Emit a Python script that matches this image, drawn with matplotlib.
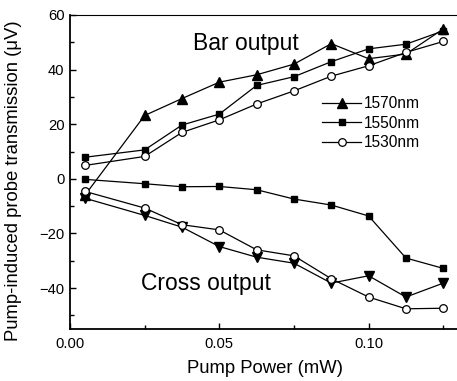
import matplotlib
matplotlib.use("Agg")
import matplotlib.pyplot as plt
from matplotlib.ticker import MultipleLocator
from matplotlib.lines import Line2D

plt.rcParams['font.family'] = ['Liberation Sans', 'DejaVu Sans']

power = [0.005, 0.025, 0.0375, 0.05, 0.0625, 0.075, 0.0875, 0.1, 0.1125, 0.125]

bar_1570 = [-6.0, 23.2, 29.4, 35.4, 38.1, 42.0, 49.5, 44.0, 45.7, 54.9]
bar_1550 = [7.9, 10.6, 19.7, 23.7, 34.2, 37.4, 42.9, 47.6, 49.3, 54.2]
bar_1530 = [4.9, 8.2, 17.0, 21.6, 27.4, 32.2, 37.6, 41.4, 46.3, 50.3]

cross_1570 = [-7.1, -13.4, -17.7, -24.8, -28.7, -30.9, -38.2, -35.5, -43.3, -38.2]
cross_1550 = [-0.2, -1.8, -2.9, -2.8, -4.0, -7.4, -9.6, -13.6, -29.0, -32.8]
cross_1530 = [-4.6, -10.7, -16.8, -18.7, -26.0, -28.2, -36.6, -43.3, -47.6, -47.4]

labels = ["1570nm", "1550nm", "1530nm"]

fig = plt.figure(figsize=(4.57, 3.81), dpi=100)
ax = fig.add_axes([70/457, 52/381, 387/457, 314/381])

lw = 0.9
kw = dict(color='black', lw=lw)
ax.plot(power, bar_1570, marker='^', ms=7, **kw)
ax.plot(power, bar_1550, marker='s', ms=5, **kw)
ax.plot(power, bar_1530, marker='o', ms=5.5, mfc='white', mew=0.9, **kw)
ax.plot(power, cross_1570, marker='v', ms=7, **kw)
ax.plot(power, cross_1550, marker='s', ms=5, **kw)
ax.plot(power, cross_1530, marker='o', ms=5.5, mfc='white', mew=0.9, **kw)

ax.set_xlim(0, 387/2986)
ax.set_ylim(-55, 60)
ax.xaxis.set_major_locator(MultipleLocator(0.05))
ax.xaxis.set_minor_locator(MultipleLocator(0.025))
ax.yaxis.set_major_locator(MultipleLocator(20))
ax.yaxis.set_minor_locator(MultipleLocator(10))
ax.xaxis.set_major_formatter(matplotlib.ticker.FormatStrFormatter('%.2f'))
ax.tick_params(which='both', direction='in', labelsize=10.6, top=False, right=False)
ax.tick_params(which='major', length=4, width=1)
ax.tick_params(which='minor', length=3, width=1)
ax.tick_params(axis='x', pad=6)
ax.tick_params(axis='y', pad=4)

ax.spines['right'].set_visible(False)
for s in ['left', 'bottom']:
    ax.spines[s].set_linewidth(1.3)
ax.spines['top'].set_linewidth(0.8)

ax.set_xlabel("Pump Power (mW)", fontsize=13.3)
ax.set_ylabel("Pump-induced probe transmission (μV)", fontsize=13.3)
ax.xaxis.set_label_coords(0.504, -0.10)
ax.yaxis.set_label_coords(-0.125, 0.473)

ax.text(0.0589, 47.0, "Bar output", fontsize=16.5, ha='center', va='baseline')
ax.text(0.0455, -40.7, "Cross output", fontsize=16.5, ha='center', va='baseline')

handles = [
    Line2D([], [], color='black', lw=lw, marker='^', ms=7),
    Line2D([], [], color='black', lw=lw, marker='s', ms=5),
    Line2D([], [], color='black', lw=lw, marker='o', ms=5.5, mfc='white', mew=0.9),
]
leg = ax.legend(handles, labels, loc='center left', frameon=False, fontsize=11.2,
                handlelength=2.5, handletextpad=0.15, labelspacing=0.3,
                bbox_to_anchor=((323 - 70) / 387 - 0.018, (329 - 123.3) / 314),
                borderaxespad=0)

fig.savefig("out.png", dpi=100)
